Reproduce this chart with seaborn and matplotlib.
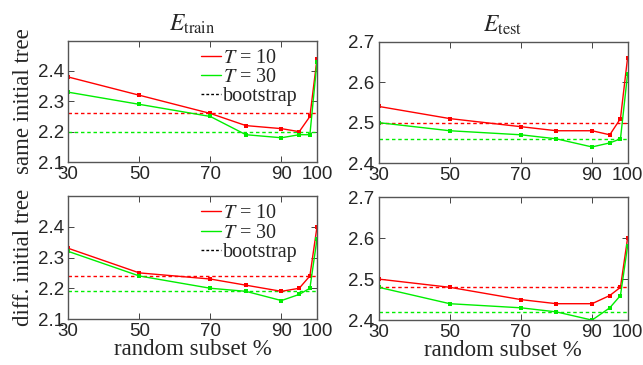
import matplotlib
matplotlib.use("Agg")
import matplotlib.pyplot as plt
from matplotlib.lines import Line2D
import pandas as pd
import seaborn as sns

# Random subset percentages
subset = [30, 50, 70, 80, 90, 95, 98, 100]

# same initial tree
same_train_t10 = [2.38, 2.32, 2.26, 2.22, 2.21, 2.20, 2.25, 2.44]
same_train_t30 = [2.33, 2.29, 2.25, 2.19, 2.18, 2.19, 2.19, 2.43]
same_train_boot = [2.26, 2.20]
same_test_t10 = [2.54, 2.51, 2.49, 2.48, 2.48, 2.47, 2.51, 2.66]
same_test_t30 = [2.50, 2.48, 2.47, 2.46, 2.44, 2.45, 2.46, 2.62]
same_test_boot = [2.50, 2.46]

# different initial tree
diff_train_t10 = [2.33, 2.25, 2.23, 2.21, 2.19, 2.20, 2.24, 2.40]
diff_train_t30 = [2.32, 2.24, 2.20, 2.19, 2.16, 2.18, 2.20, 2.36]
diff_train_boot = [2.24, 2.19]
diff_test_t10 = [2.50, 2.48, 2.45, 2.44, 2.44, 2.46, 2.48, 2.60]
diff_test_t30 = [2.48, 2.44, 2.43, 2.42, 2.40, 2.43, 2.46, 2.58]
diff_test_boot = [2.48, 2.42]

series_labels = ['$T$ = 10', '$T$ = 30']
colors = {'$T$ = 10': '#ff0000', '$T$ = 30': '#00ee00'}

sns.set_style("ticks")
plt.rcParams['font.family'] = ['Liberation Sans', 'DejaVu Sans']
plt.rcParams['mathtext.fontset'] = 'stix'
serif = ['Liberation Serif', 'DejaVu Serif']


def make_df(t10, t30):
    return pd.DataFrame({
        'subset': subset * 2,
        'err': t10 + t30,
        'T': [series_labels[0]] * len(subset) + [series_labels[1]] * len(subset),
    })


def panel(ax, t10, t30, boot, ylim, yticks, legend=False):
    df = make_df(t10, t30)
    sns.lineplot(data=df, x='subset', y='err', hue='T', palette=colors,
                 marker='s', markersize=2.6, markeredgewidth=0,
                 linewidth=1.0, legend=False, ax=ax)
    for val, lab in zip(boot, series_labels):
        ax.axhline(val, color=colors[lab], linestyle=(0, (2.5, 2)), linewidth=1.0,
                   zorder=1)
    ax.set_xlim(subset[0], subset[-1])
    ax.set_ylim(*ylim)
    ax.set_xticks([30, 50, 70, 90, 100])
    ax.set_yticks(yticks)
    ax.set_yticklabels([f'{v:.1f}' for v in yticks])
    ax.tick_params(direction='in', top=True, right=True, labelsize=13.5,
                   length=4, width=0.6, pad=3)
    for sp in ax.spines.values():
        sp.set_color('#555555')
        sp.set_linewidth(1.0)
    ax.set_xlabel('')
    ax.set_ylabel('')
    if legend:
        handles = [
            Line2D([], [], color=colors[series_labels[0]], lw=1.0),
            Line2D([], [], color=colors[series_labels[1]], lw=1.0),
            Line2D([], [], color='black', lw=1.0, linestyle=(0, (2, 1.5))),
        ]
        ax.legend(handles, series_labels + ['bootstrap'], loc='upper right',
                  bbox_to_anchor=(0.97, 1.03), frameon=False,
                  handlelength=1.0, handletextpad=0.1, labelspacing=0.0,
                  borderaxespad=0.2, prop={'family': serif, 'size': 14.5})


fig = plt.figure(figsize=(6.43, 3.65), dpi=100)
w, h = 0.387, 0.333
ax_tl = fig.add_axes([0.106, 0.556, w, h])
ax_tr = fig.add_axes([0.589, 0.553, w, h])
ax_bl = fig.add_axes([0.106, 0.126, w, 0.337])
ax_br = fig.add_axes([0.589, 0.123, w, 0.337])

panel(ax_tl, same_train_t10, same_train_t30, same_train_boot, (2.1, 2.5),
      [2.1, 2.2, 2.3, 2.4], legend=True)
panel(ax_tr, same_test_t10, same_test_t30, same_test_boot, (2.4, 2.7),
      [2.4, 2.5, 2.6, 2.7])
panel(ax_bl, diff_train_t10, diff_train_t30, diff_train_boot, (2.1, 2.5),
      [2.1, 2.2, 2.3, 2.4], legend=True)
panel(ax_br, diff_test_t10, diff_test_t30, diff_test_boot, (2.4, 2.7),
      [2.4, 2.5, 2.6, 2.7])

ax_tl.set_title('$E_{\\mathrm{train}}$', fontsize=17, family=serif, pad=7)
ax_tr.set_title('$E_{\\mathrm{test}}$', fontsize=17, family=serif, pad=7)
ax_tl.set_ylabel('same initial tree', fontsize=16.5, family=serif, labelpad=3)
ax_bl.set_ylabel('diff. initial tree', fontsize=16.5, family=serif, labelpad=3)
ax_bl.set_xlabel('random subset %', fontsize=16.5, family=serif, labelpad=-1)
ax_br.set_xlabel('random subset %', fontsize=16.5, family=serif, labelpad=-1)

fig.savefig('out.png', dpi=100)
